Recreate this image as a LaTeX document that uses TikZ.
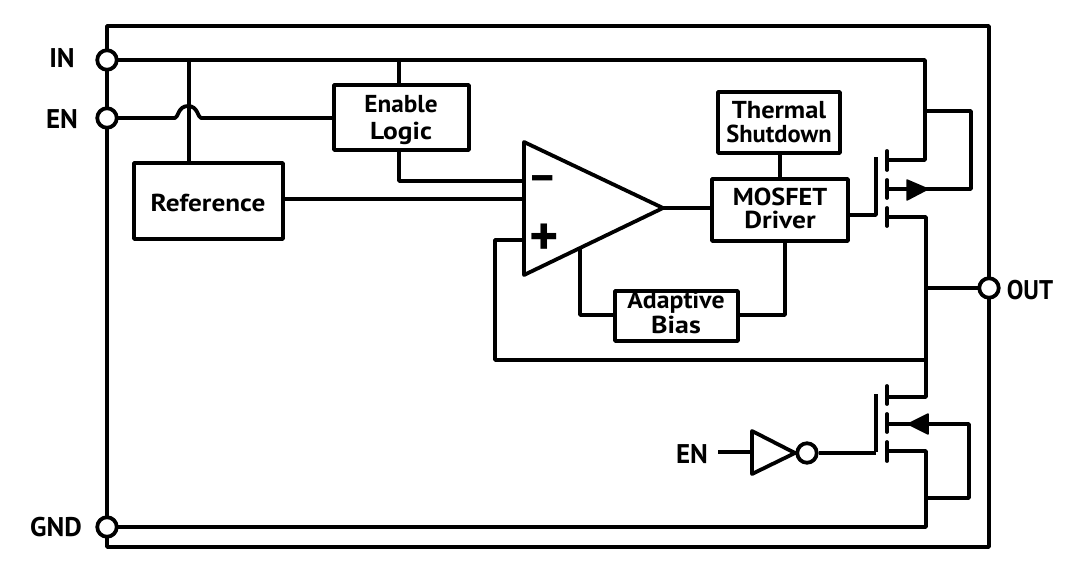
\documentclass[tikz,border=0pt]{standalone}
\usepackage{fontspec}
\setmainfont{PT Sans}
\begin{document}
\begin{tikzpicture}[x=1pt,y=-1pt,line join=round,
  wire/.style={line width=3.8pt,draw=black},
  blk/.style={draw=black,line width=3.8pt,fill=white,inner sep=0pt},
  boxtext/.style={font=\fontsize{24.5}{23}\selectfont\bfseries,align=center,inner sep=0pt},
  pin/.style={circle,draw=black,line width=3.8pt,fill=white,minimum size=19.5pt,inner sep=0pt},
  lbl/.style={font=\fontsize{27}{27}\selectfont\bfseries,inner sep=0pt},
  head/.style={fill=black,draw=black,line width=1.5pt}]
\useasboundingbox (0,0) rectangle (1080,572);
\fill[white] (0,0) rectangle (1080,572);
% frame
\draw[wire] (107,26) rectangle (989,547);
% coordinates
\coordinate (inJ) at (189,60);
\coordinate (inC) at (925,60);
\coordinate (bulkTop) at (925,111);
\coordinate (bulkR) at (971,111);
\coordinate (bulkRb) at (971,189);
\coordinate (outJ) at (927,288);
\coordinate (fbJ) at (927,360);
% boxes
\node[blk,minimum width=135pt,minimum height=65pt] (logic) at (401.5,117.5) {};
\node[blk,minimum width=149pt,minimum height=76pt] (ref) at (208.5,201) {};
\node[blk,minimum width=122pt,minimum height=61pt] (therm) at (779,122.5) {};
\node[blk,minimum width=136pt,minimum height=62pt] (drv) at (780,210) {};
\node[blk,minimum width=123pt,minimum height=50pt] (bias) at (676.5,316) {};
\node[boxtext] (tLogicA) at (401,104) {\scalebox{1.03}[1]{Enable}};
\node[boxtext] (tLogicB) at (401,133) {\scalebox{1.12}[1]{Logic}};
\node[boxtext] (tRef) at (208,203) {\scalebox{1.11}[1]{Reference}};
\node[boxtext] (tThermA) at (779,110) {\scalebox{1.08}[1]{Thermal}};
\node[boxtext] (tThermB) at (779,134) {Shutdown};
\node[boxtext] (tDrvA) at (780,197) {\scalebox{1.07}[1]{MOSFET}};
\node[boxtext] (tDrvB) at (780,220) {\scalebox{1.12}[1]{Driver}};
\node[boxtext] (tBiasA) at (676,302) {\scalebox{1.05}[1]{Adaptive}};
\node[boxtext] (tBiasB) at (676,325) {\scalebox{1.14}[1]{Bias}};
% opamp
\coordinate (oa) at (524,142); \coordinate (ob) at (524,275); \coordinate (oc) at (663,208);
\coordinate (oBias) at (580,248);
% wires
\draw[wire] (107,60) -- (inC) -- (925,160) -- (887,160);
\draw[wire] (bulkTop) -- (bulkR) -- (bulkRb) -- (905,189);
\draw[wire] (887,189) -- (910,189);
\draw[wire] (inJ) -- (ref.north -| inJ);
\draw[wire] (399,60) -- (logic.north -| 399,60);
\draw[wire] (107,118) -- (175,118) .. controls (178,118) and (178,106) .. (188,106) .. controls (198,106) and (198,118) .. (201,118) -- (logic.west |- 0,118);
\draw[wire] (logic.south -| 399,0) -- (399,181) -- (oa |- 0,181);
\draw[wire] (ref.east |- 0,199) -- (oa |- 0,199);
\draw[wire] (oc) -- (drv.west |- oc);
\draw[wire] (therm.south -| 780,0) -- (drv.north -| 780,0);
\draw[wire] (drv.south -| 785,0) -- (785,315) -- (bias.east |- 0,315);
\draw[wire] (bias.west |- 0,315) -- (580,315) -- (oBias);
\draw[wire] (oa |- 0,240) -- (495,240) -- (495,360) -- (fbJ);
\draw[wire] (drv.east |- 0,215) -- (876,215) -- (876,157);
\draw[wire] (887,217) -- (926,217) -- (926,397) -- (887,397);
\draw[wire] (outJ) -- (989,288);
% pmos
\draw[wire,line cap=round] (887,151) -- (887,170);
\draw[wire,line cap=round] (887,180) -- (887,198);
\draw[wire,line cap=round] (887,208) -- (887,226);
\draw[head] (907,180) -- (928,189) -- (907,200) -- cycle;
% nmos
\draw[wire] (876,394) -- (876,452);
\draw[wire,line cap=round] (887,386) -- (887,404);
\draw[wire,line cap=round] (887,414) -- (887,432);
\draw[wire,line cap=round] (887,442) -- (887,461);
\draw[wire] (887,424) -- (969,424) -- (969,498) -- (926,498);
\draw[wire] (887,451) -- (926,451) -- (926,527) -- (107,527);
\draw[head] (928,414) -- (908,424) -- (928,434) -- cycle;
% inverter
\coordinate (ENin) at (718,452);
\node[pin] (bub) at (807,453) {};
\draw[wire] (bub) -- (876,453);
\draw[wire] (ENin) -- (752,452);
\draw[wire,fill=white] (752,431) -- (795,453) -- (752,474) -- cycle;
% opamp triangle
\draw[wire,fill=white] (oa) -- (oc) -- (ob) -- cycle;
\node[font=\fontsize{46}{46}\selectfont\bfseries,inner sep=0pt] (minus) at (543,184) {–};
\node[font=\fontsize{56}{56}\selectfont\bfseries,inner sep=0pt] (plus) at (544,240) {+};
% pins
\node[pin] (pIN) at (107,60) {};
\node[pin] (pEN) at (107,118) {};
\node[pin] (pGND) at (107,527) {};
\node[pin] (pOUT) at (989,288) {};
% labels
\node[lbl] (tIN) at (62,58) {IN};
\node[lbl] (tEN) at (62,119) {EN};
\node[lbl] (tGND) at (56,527) {GND};
\node[lbl] (tOUT) at (1030,290) {\scalebox{.92}[1]{OUT}};
\node[lbl] (tEN2) at (692,454) {EN};
\end{tikzpicture}
\end{document}
